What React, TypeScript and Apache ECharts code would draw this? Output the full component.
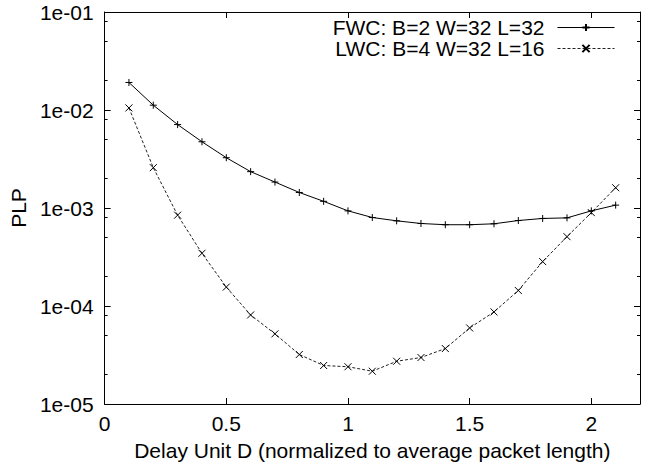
import React, { useEffect, useRef } from "react";
import * as echarts from "echarts";

const FONT = "Liberation Sans";
const FS = 21;

const xValues = [0.1, 0.2, 0.3, 0.4, 0.5, 0.6, 0.7, 0.8, 0.9, 1.0, 1.1, 1.2, 1.3, 1.4, 1.5, 1.6, 1.7, 1.8, 1.9, 2.0, 2.1];
const fwcName = "FWC: B=2 W=32 L=32";
const lwcName = "LWC: B=4 W=32 L=16";
const fwcValues = [1.91e-2, 1.12e-2, 7.1e-3, 4.74e-3, 3.26e-3, 2.35e-3, 1.84e-3, 1.44e-3, 1.17e-3, 9.35e-4, 8.0e-4, 7.4e-4, 6.95e-4, 6.75e-4, 6.75e-4, 6.9e-4, 7.45e-4, 7.82e-4, 7.93e-4, 9.35e-4, 1.07e-3];
const lwcValues = [1.05e-2, 2.58e-3, 8.45e-4, 3.45e-4, 1.56e-4, 8.1e-5, 5.2e-5, 3.2e-5, 2.47e-5, 2.4e-5, 2.16e-5, 2.73e-5, 2.98e-5, 3.68e-5, 5.97e-5, 8.7e-5, 1.44e-4, 2.84e-4, 5.1e-4, 8.97e-4, 1.61e-3];

const yTickLabels: Record<string, string> = {
  "-5": "1e-05",
  "-4": "1e-04",
  "-3": "1e-03",
  "-2": "1e-02",
  "-1": "1e-01",
};
const minorDecades = [1e-5, 1e-4, 1e-3, 1e-2];
const minorFactors = [2, 5, 8];

const xTitle = "Delay Unit D (normalized to average packet length)";
const yTitle = "PLP";

export default function App() {
  const ref = useRef<HTMLDivElement>(null);
  useEffect(() => {
    if (!ref.current) return;
    const chart = echarts.init(ref.current, undefined, { renderer: "svg" });
    const minorTicks: number[][] = [];
    minorDecades.forEach((d) => minorFactors.forEach((f) => minorTicks.push([0, f * d])));

    const tickCommon = { show: true, inside: true, length: 6, lineStyle: { color: "#000", width: 1 } };
    const lineCommon = { show: true, onZero: false, lineStyle: { color: "#000", width: 1 } };

    const option: any = {
      animation: false,
      backgroundColor: "#fff",
      textStyle: { fontFamily: FONT },
      grid: { left: 103, top: 12, right: 18, bottom: 60, containLabel: false },
      legend: {
        orient: "vertical",
        align: "right",
        right: 43,
        top: 17,
        padding: 0,
        itemWidth: 57,
        itemHeight: 9,
        itemGap: 0,
        selectedMode: false,
        data: [fwcName, lwcName],
        lineStyle: { width: 1 },
        textStyle: { fontSize: FS, fontFamily: FONT, color: "#000", lineHeight: 20, padding: [0, 8, 0, 0] },
      },
      xAxis: [
        {
          type: "value",
          min: 0,
          max: 2.2,
          interval: 0.5,
          position: "bottom",
          axisLine: lineCommon,
          axisTick: tickCommon,
          splitLine: { show: false },
          axisLabel: {
            show: true,
            showMaxLabel: false,
            margin: 9,
            fontSize: FS,
            fontFamily: FONT,
            color: "#000",
            formatter: (v: number) => (Math.abs(v - 2.2) < 1e-9 ? "" : String(v)),
          },
          name: xTitle,
          nameLocation: "middle",
          nameGap: 36,
          nameTextStyle: { fontSize: FS, fontFamily: FONT, color: "#000" },
        },
        {
          type: "value",
          min: 0,
          max: 2.2,
          interval: 0.5,
          position: "top",
          axisLine: lineCommon,
          axisTick: tickCommon,
          splitLine: { show: false },
          axisLabel: { show: false },
        },
      ],
      yAxis: [
        {
          type: "log",
          logBase: 10,
          min: 1e-5,
          max: 1e-1,
          splitNumber: 4,
          position: "left",
          axisLine: lineCommon,
          axisTick: tickCommon,
          splitLine: { show: false },
          axisLabel: {
            show: true,
            margin: 11,
            fontSize: FS,
            fontFamily: FONT,
            color: "#000",
            formatter: (v: number) => yTickLabels[String(Math.round(Math.log10(v)))] ?? "",
          },
          name: yTitle,
          nameLocation: "middle",
          nameRotate: 90,
          nameGap: 69,
          nameTextStyle: { fontSize: FS, fontFamily: FONT, color: "#000" },
        },
        {
          type: "log",
          logBase: 10,
          min: 1e-5,
          max: 1e-1,
          splitNumber: 4,
          position: "right",
          axisLine: lineCommon,
          axisTick: tickCommon,
          splitLine: { show: false },
          axisLabel: { show: false },
        },
      ],
      series: [
        {
          name: fwcName,
          type: "line",
          xAxisIndex: 0,
          yAxisIndex: 0,
          data: xValues.map((x, i) => [x, fwcValues[i]]),
          symbol: "path://M-1,0 L1,0 M0,-1 L0,1",
          symbolSize: 7,
          showSymbol: true,
          lineStyle: { color: "#000", width: 1, type: "solid" },
          itemStyle: { color: "none", borderColor: "#000", borderWidth: 1 },
          z: 3,
        },
        {
          name: lwcName,
          type: "line",
          xAxisIndex: 0,
          yAxisIndex: 0,
          data: xValues.map((x, i) => [x, lwcValues[i]]),
          symbol: "path://M-1,-1 L1,1 M-1,1 L1,-1",
          symbolSize: 7,
          showSymbol: true,
          lineStyle: { color: "#222", width: 1, type: [3, 2] },
          itemStyle: { color: "none", borderColor: "#000", borderWidth: 1 },
          z: 3,
        },
        {
          type: "custom",
          xAxisIndex: 0,
          yAxisIndex: 0,
          silent: true,
          clip: false,
          data: minorTicks,
          renderItem: (params: any, api: any) => {
            const pt = api.coord([0, api.value(1)]);
            const cs = params.coordSys;
            const y = pt[1];
            return {
              type: "group",
              children: [
                { type: "line", shape: { x1: cs.x, y1: y, x2: cs.x + 3, y2: y }, style: { stroke: "#000", lineWidth: 1 } },
                { type: "line", shape: { x1: cs.x + cs.width, y1: y, x2: cs.x + cs.width - 3, y2: y }, style: { stroke: "#000", lineWidth: 1 } },
              ],
            };
          },
        },
      ],
    };
    chart.setOption(option);
    return () => chart.dispose();
  }, []);
  return <div ref={ref} style={{ position: "fixed", left: 0, top: 0, width: 658, height: 466 }} />;
}
